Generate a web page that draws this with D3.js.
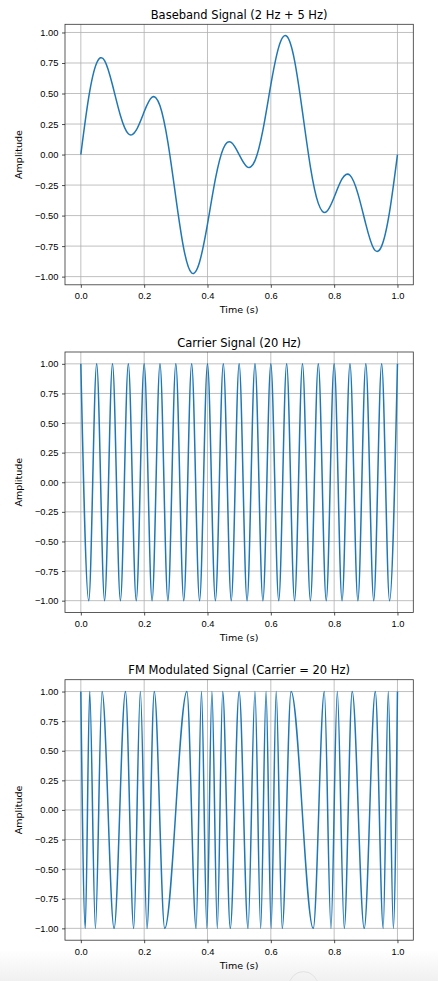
<!DOCTYPE html>
<html>
<head>
<meta charset="utf-8">
<script src="https://cdn.jsdelivr.net/npm/d3@7"></script>
<style>
    body { margin: 0; background: #fff; }
    svg { display: block; font-family: "DejaVu Sans", sans-serif; }
    .grid line { stroke: #b0b0b0; stroke-width: 0.8; }
    .tick line { stroke: #222; stroke-width: 0.8; }
    .tick text { fill: #000; font-size: 9.3px; }
</style>
</head>
<body>
<svg id="chart" width="438" height="981"></svg>
<script>
const width = 438,
    height = 981;

// values
const timeTicks = [0, 0.2, 0.4, 0.6, 0.8, 1.0];
const ampTicks = [-1, -0.75, -0.5, -0.25, 0, 0.25, 0.5, 0.75, 1];
const titles = ["Baseband Signal (2 Hz + 5 Hz)", "Carrier Signal (20 Hz)", "FM Modulated Signal (Carrier = 20 Hz)"];

const basebandT = [0, 0.025, 0.05, 0.075, 0.1, 0.125, 0.15, 0.175, 0.2, 0.225,
    0.25, 0.275, 0.3, 0.325, 0.35, 0.375, 0.4, 0.425, 0.45, 0.475,
    0.5, 0.525, 0.55, 0.575, 0.6, 0.625, 0.65, 0.675, 0.7, 0.725,
    0.75, 0.775, 0.8, 0.825, 0.85, 0.875, 0.9, 0.925, 0.95, 0.975, 1.0];
const basebandY = [0, 0.47, 0.75, 0.77, 0.57, 0.32, 0.17, 0.20, 0.35, 0.47,
    0.40, 0.10, -0.35, -0.77, -0.97, -0.88, -0.57, -0.20, 0.05, 0.10,
    0, -0.10, -0.05, 0.20, 0.57, 0.88, 0.97, 0.77, 0.35, -0.10,
    -0.40, -0.47, -0.35, -0.20, -0.17, -0.32, -0.57, -0.77, -0.75, -0.47, 0];

// carrier peaks and troughs
const carrierT = [0, 0.025, 0.05, 0.075, 0.1, 0.125, 0.15, 0.175, 0.2, 0.225,
    0.25, 0.275, 0.3, 0.325, 0.35, 0.375, 0.4, 0.425, 0.45, 0.475,
    0.5, 0.525, 0.55, 0.575, 0.6, 0.625, 0.65, 0.675, 0.7, 0.725,
    0.75, 0.775, 0.8, 0.825, 0.85, 0.875, 0.9, 0.925, 0.95, 0.975, 1.0];
const carrierY = [1, -1, 1, -1, 1, -1, 1, -1, 1, -1,
    1, -1, 1, -1, 1, -1, 1, -1, 1, -1,
    1, -1, 1, -1, 1, -1, 1, -1, 1, -1,
    1, -1, 1, -1, 1, -1, 1, -1, 1, -1, 1];

// FM peaks and troughs
const fmT = [0, 0.014, 0.028, 0.046, 0.067, 0.105, 0.141, 0.167, 0.188, 0.209,
    0.232, 0.265, 0.335, 0.364, 0.381, 0.398, 0.414, 0.431, 0.448, 0.472,
    0.500, 0.528, 0.550, 0.568, 0.585, 0.601, 0.617, 0.636, 0.664, 0.734,
    0.769, 0.790, 0.810, 0.832, 0.857, 0.895, 0.930, 0.955, 0.971, 0.987, 1.0];
const fmY = [1, -1, 1, -1, 1, -1, 1, -1, 1, -1,
    1, -1, 1, -1, 1, -1, 1, -1, 1, -1,
    1, -1, 1, -1, 1, -1, 1, -1, 1, -1,
    1, -1, 1, -1, 1, -1, 1, -1, 1, -1, 1];

const svg = d3.select("#chart");

// faint shading at the very bottom of the screenshot
const defs = svg.append("defs");
const grad = defs.append("linearGradient")
    .attr("id", "fade").attr("x1", 0).attr("y1", 0).attr("x2", 0).attr("y2", 1);
grad.append("stop").attr("offset", 0).attr("stop-color", "#fff");
grad.append("stop").attr("offset", 1).attr("stop-color", "#f0f0f0");
svg.append("rect")
    .attr("x", 0).attr("y", 950).attr("width", width).attr("height", height - 950)
    .attr("fill", "url(#fade)");
svg.append("circle")
    .attr("cx", 303.5).attr("cy", 986).attr("r", 14.4)
    .attr("fill", "none").attr("stroke", "#e2e2e2");

const left = 65,
    right = 413.3,
    panelH = 260.5,
    tops = [24.3, 352.0, 679.7];

const x = d3.scaleLinear().domain([-0.05, 1.05]).range([left, right]);

function drawPanel(top, title, ts, vs, curve) {
    const ext = d3.extent(vs),
        pad = (ext[1] - ext[0]) * 0.05;
    const y = d3.scaleLinear()
        .domain([ext[0] - pad, ext[1] + pad])
        .range([top + panelH, top]);

    const g = svg.append("g");

    const grid = g.append("g").attr("class", "grid");
    grid.selectAll(".gx").data(timeTicks).enter().append("line")
        .attr("x1", d => x(d)).attr("x2", d => x(d))
        .attr("y1", top).attr("y2", top + panelH);
    grid.selectAll(".gy").data(ampTicks).enter().append("line")
        .attr("x1", left).attr("x2", right)
        .attr("y1", d => y(d)).attr("y2", d => y(d));

    const line = d3.line()
        .x((d, i) => x(ts[i]))
        .y(d => y(d))
        .curve(curve);
    g.append("path")
        .datum(vs)
        .attr("d", line)
        .attr("fill", "none")
        .attr("stroke", "#1f77b4")
        .attr("stroke-width", 1.5)
        .attr("stroke-linejoin", "round");

    g.append("rect")
        .attr("x", left).attr("y", top)
        .attr("width", right - left).attr("height", panelH)
        .attr("fill", "none").attr("stroke", "#333").attr("stroke-width", 0.8);

    const xAxis = g.append("g")
        .attr("transform", `translate(0,${top + panelH})`)
        .call(d3.axisBottom(x).tickValues(timeTicks).tickFormat(d3.format(".1f"))
            .tickSize(3).tickPadding(5.1).tickSizeOuter(0));
    xAxis.select(".domain").remove();
    xAxis.selectAll("text").attr("font-family", null).attr("font-size", null);

    const yAxis = g.append("g")
        .attr("transform", `translate(${left},0)`)
        .call(d3.axisLeft(y).tickValues(ampTicks).tickFormat(d3.format(".2f"))
            .tickSize(3).tickPadding(3.6).tickSizeOuter(0));
    yAxis.select(".domain").remove();
    yAxis.selectAll("text").attr("font-family", null).attr("font-size", null);

    g.append("text")
        .attr("x", (left + right) / 2)
        .attr("y", top - 5.4)
        .attr("text-anchor", "middle")
        .attr("font-size", "11.5px")
        .text(title);

    g.append("text")
        .attr("x", (left + right) / 2)
        .attr("y", top + panelH + 28.5)
        .attr("text-anchor", "middle")
        .attr("font-size", "9.5px")
        .text("Time (s)");

    g.append("text")
        .attr("transform", `translate(21.5,${top + panelH / 2}) rotate(-90)`)
        .attr("text-anchor", "middle")
        .attr("font-size", "9.5px")
        .text("Amplitude");
}

drawPanel(tops[0], titles[0], basebandT, basebandY, d3.curveNatural);
drawPanel(tops[1], titles[1], carrierT, carrierY, d3.curveMonotoneX);
drawPanel(tops[2], titles[2], fmT, fmY, d3.curveMonotoneX);
</script>
</body>
</html>
